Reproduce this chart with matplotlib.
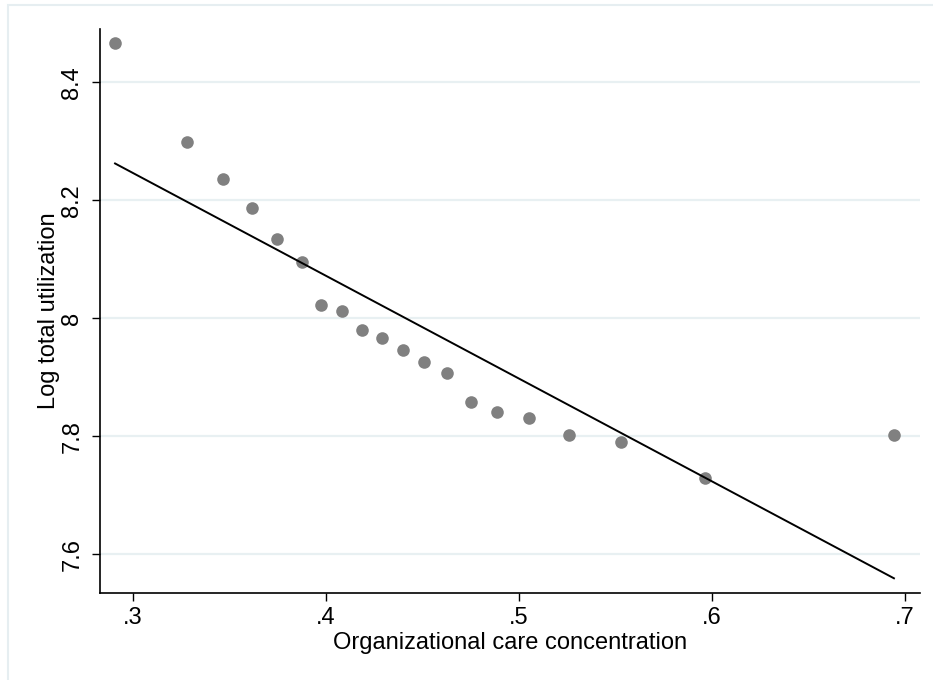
import matplotlib
matplotlib.use("Agg")
import matplotlib.pyplot as plt
from matplotlib.patches import Rectangle
import numpy as np

# binned scatter points
care_conc = [0.2907, 0.3278, 0.3466, 0.3615, 0.3748, 0.3874, 0.3976, 0.4081,
             0.4188, 0.4292, 0.4399, 0.4509, 0.4625, 0.4751, 0.4887, 0.5052,
             0.5258, 0.5528, 0.5965, 0.6943]
log_util = [8.466, 8.299, 8.236, 8.187, 8.135, 8.096, 8.022, 8.013,
            7.981, 7.966, 7.947, 7.926, 7.908, 7.859, 7.841, 7.832,
            7.803, 7.790, 7.730, 7.802]

# fitted line
fit_intercept = 8.769
fit_slope = -1.742

x_ticks = [0.3, 0.4, 0.5, 0.6, 0.7]
x_labels = ['.3', '.4', '.5', '.6', '.7']
y_ticks = [7.6, 7.8, 8.0, 8.2, 8.4]
y_labels = ['7.6', '7.8', '8', '8.2', '8.4']

plt.rcParams['font.family'] = ['Liberation Sans', 'DejaVu Sans']

fig = plt.figure(figsize=(9.33, 6.8), dpi=100)

# light outer frame like Stata's graph region
fig.patches.append(Rectangle((8 / 933, -0.1), 1.2, (675 / 680) + 0.1,
                             transform=fig.transFigure, fill=False,
                             edgecolor='#E6EEF1', linewidth=1.5))

ax = fig.add_axes([100 / 933, 87 / 680, 820 / 933, 564 / 680])

for y in y_ticks:
    ax.axhline(y, color='#E8F0F2', linewidth=1.6, zorder=0)

ax.scatter(care_conc, log_util, s=82, color='#808080', linewidths=0, zorder=2)

xs = np.array([min(care_conc), max(care_conc)])
ax.plot(xs, fit_intercept + fit_slope * xs, color='black', linewidth=1.4, zorder=3)

ax.set_xlim(0.2829, 0.7078)
ax.set_ylim(7.5346, 8.4905)

ax.set_xticks(x_ticks)
ax.set_xticklabels(x_labels)
ax.set_yticks(y_ticks)
ax.set_yticklabels(y_labels, rotation=90, va='center')

ax.tick_params(axis='both', labelsize=17, length=6, width=1, color='black')
ax.tick_params(axis='x', pad=4)
ax.tick_params(axis='y', pad=6)

for side in ['top', 'right']:
    ax.spines[side].set_visible(False)
for side in ['left', 'bottom']:
    ax.spines[side].set_linewidth(1.2)

ax.set_xlabel('Organizational care concentration', fontsize=17, labelpad=2)
ax.set_ylabel('Log total utilization', fontsize=17, labelpad=1)

fig.savefig('out.png', dpi=100)
